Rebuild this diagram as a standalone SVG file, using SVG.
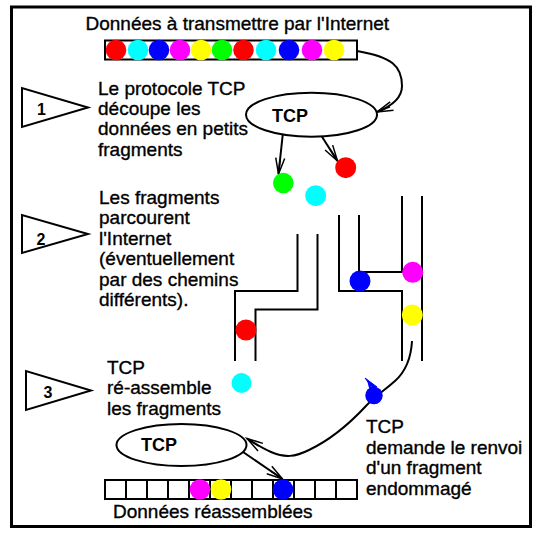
<svg xmlns="http://www.w3.org/2000/svg" width="550" height="540" viewBox="0 0 550 540">
<style>
text{font-family:"Liberation Sans",Arial,sans-serif;font-size:19px;fill:#000;stroke:#000;stroke-width:0.35}
.tcp{font-weight:bold;font-size:18px;stroke-width:0}
.num{font-weight:bold;font-size:16px;stroke-width:0}
.ln{fill:none;stroke:#000;stroke-width:2}
.sh{fill:#fff;stroke:#000;stroke-width:2}
</style>
<defs>
<marker id="ah" markerWidth="20" markerHeight="12" refX="0" refY="0" orient="auto" markerUnits="userSpaceOnUse" overflow="visible">
<path d="M-16,-4.5 L0,0 L-16,4.5 M-14,0 L0,0" fill="none" stroke="#000" stroke-width="1.5"/>
</marker>
</defs>
<rect x="0" y="0" width="550" height="540" fill="#fff"/>
<rect x="11.5" y="7" width="519" height="519.5" fill="none" stroke="#000" stroke-width="3"/>

<g id="title"><text x="85.5" y="29.5">Données à transmettre par l'Internet</text></g>

<g id="data-bar">
<rect x="105" y="40.5" width="252" height="19" class="sh"/>
<circle cx="116" cy="50" r="10.3" fill="#f00"/>
<circle cx="138" cy="50" r="10.3" fill="#0ff"/>
<circle cx="159" cy="50" r="10.3" fill="#00f"/>
<circle cx="180" cy="50" r="10.3" fill="#f0f"/>
<circle cx="201" cy="50" r="10.3" fill="#ff0"/>
<circle cx="222" cy="50" r="10.3" fill="#0f0"/>
<circle cx="243.5" cy="50" r="10.3" fill="#f00"/>
<circle cx="266" cy="50" r="10.3" fill="#0ff"/>
<circle cx="289" cy="50" r="10.3" fill="#00f"/>
<circle cx="312" cy="50" r="10.3" fill="#f0f"/>
<circle cx="334" cy="50" r="10.3" fill="#ff0"/>
</g>

<g id="connectors">
<path class="ln" d="M357,51 C392,57 402,66 402,86 C402,98 392,106 377,112" marker-end="url(#ah)"/>
<path class="ln" d="M282.7,135 L278.5,174" marker-end="url(#ah)"/>
<path class="ln" d="M321.5,136 L337.5,161" marker-end="url(#ah)"/>
<path class="ln" d="M412,341 C411,360 405,372 395,381 C385,390 375,396 365,407 C350,423 330,440 309,450 C295,457 285,458 271,452 C262,448 254,443 247,438.5" marker-end="url(#ah)"/>
<path class="ln" d="M243,452 L282.5,479" marker-end="url(#ah)"/>
</g>

<g id="pipes">
<path class="ln" d="M297.5,234 V291 H235 V361"/>
<path class="ln" d="M317.5,234 V309.5 H255.5 V361"/>
<path class="ln" d="M339,215 V291 H402 V361"/>
<path class="ln" d="M359,215 V272 H402 V196"/>
<path class="ln" d="M422,196 V361"/>
</g>

<g id="step1">
<path class="sh" d="M22,88 L22,127 L88,107.5 Z"/>
<text class="num" x="41.5" y="114.5" text-anchor="middle">1</text>
<text x="98" y="94.5">Le protocole TCP</text>
<text x="98" y="115">découpe les</text>
<text x="98" y="135.3">données en petits</text>
<text x="98" y="155.5">fragments</text>
</g>

<g id="tcp-send">
<ellipse cx="311.5" cy="114.7" rx="65.5" ry="22" class="sh"/>
<text class="tcp" x="272" y="121.5">TCP</text>
</g>

<g id="fragments">
<circle cx="283.3" cy="183" r="10.3" fill="#0f0"/>
<circle cx="345.7" cy="167.7" r="10.5" fill="#f00"/>
<circle cx="315.7" cy="195.7" r="10.5" fill="#0ff"/>
<circle cx="246" cy="330" r="10.5" fill="#f00"/>
<circle cx="360" cy="281" r="10.5" fill="#00f"/>
<circle cx="412.7" cy="272.3" r="10.5" fill="#f0f"/>
<circle cx="412.3" cy="315" r="10.5" fill="#ff0"/>
<circle cx="241.5" cy="383" r="10" fill="#0ff"/>
</g>

<g id="damaged">
<circle cx="374" cy="395.5" r="8.7" fill="#00f"/>
<path d="M365,378 L372,387.5 L377,387 Z M368,382 L375,389 L370,390 Z" fill="#00f" stroke="#00f" stroke-width="1"/>
</g>

<g id="step2">
<path class="sh" d="M22,215 L22,253 L88,234 Z"/>
<text class="num" x="41" y="244.5" text-anchor="middle">2</text>
<text x="99" y="203.5">Les fragments</text>
<text x="99" y="224">parcourent</text>
<text x="99" y="244.5">l'Internet</text>
<text x="99" y="265">(éventuellement</text>
<text x="99" y="285.5">par des chemins</text>
<text x="99" y="306">différents).</text>
</g>

<g id="step3">
<path class="sh" d="M26,371 L26,410 L91,390.5 Z"/>
<text class="num" x="48" y="397.5" text-anchor="middle">3</text>
<text x="107" y="373.5">TCP</text>
<text x="107" y="394">ré-assemble</text>
<text x="107" y="414.5">les fragments</text>
</g>

<g id="resend-note">
<text x="366" y="433">TCP</text>
<text x="366" y="453.5">demande le renvoi</text>
<text x="366" y="474">d'un fragment</text>
<text x="366" y="494.5">endommagé</text>
</g>

<g id="tcp-receive">
<ellipse cx="181.5" cy="445" rx="65" ry="21" class="sh"/>
<text class="tcp" x="141" y="450.5">TCP</text>
</g>

<g id="result-bar">
<rect x="105" y="480" width="252" height="19" class="sh"/>
<path class="ln" d="M126,480 V499 M147,480 V499 M168,480 V499 M189,480 V499 M210,480 V499 M231,480 V499 M252,480 V499 M273,480 V499 M294,480 V499 M315,480 V499 M336,480 V499"/>
<circle cx="200" cy="489.5" r="10.3" fill="#f0f"/>
<circle cx="221" cy="489.5" r="10.3" fill="#ff0"/>
<circle cx="283" cy="489.5" r="10.3" fill="#00f"/>
<text x="113" y="518">Données réassemblées</text>
</g>
</svg>
